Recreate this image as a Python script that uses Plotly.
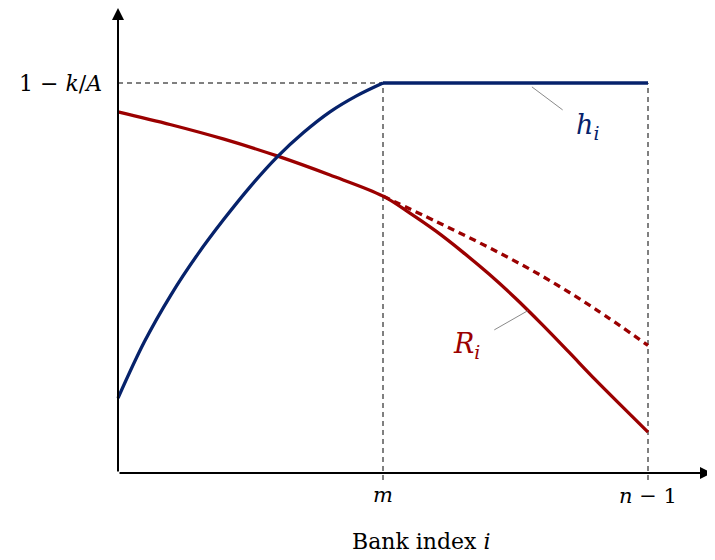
import plotly.graph_objects as go

# --------------------------------------------------
# DATA (x: bank index scaled so m = 0.5, n-1 = 1; y: 1-k/A = 1)
# --------------------------------------------------

m_pos = 0.5
n_pos = 1.0
cap = 1.0

h_x = [0.0, 0.05, 0.1, 0.15, 0.2, 0.25, 0.3, 0.35, 0.4, 0.45, 0.5, 1.0]
h_y = [0.192, 0.337, 0.457, 0.560, 0.651, 0.735, 0.810, 0.873,
       0.926, 0.967, 1.0, 1.0]

r_x = [0.0, 0.1, 0.2, 0.3, 0.4, 0.5, 0.55, 0.6, 0.65, 0.7, 0.75, 0.8,
       0.85, 0.9, 0.95, 1.0]
r_y = [0.926, 0.893, 0.856, 0.813, 0.764, 0.710, 0.667, 0.620, 0.567,
       0.510, 0.448, 0.381, 0.311, 0.240, 0.172, 0.105]

r_dash_x = [0.5, 0.6, 0.7, 0.8, 0.9, 1.0]
r_dash_y = [0.710, 0.645, 0.578, 0.505, 0.421, 0.327]

tick_labels = ["<i>m</i>", "<i>n</i> − 1"]

BLUE = "#06226b"
RED = "#9b0000"
FONT = "DejaVu Serif"

# --------------------------------------------------
# FIGURE
# --------------------------------------------------

fig = go.Figure()

# guide lines
guide = dict(color="black", width=1, dash="5px,4px")
fig.add_trace(go.Scatter(
    x=[0, m_pos, m_pos], y=[cap, cap, -0.018],
    mode="lines", line=guide, hoverinfo="skip"
))
fig.add_trace(go.Scatter(
    x=[m_pos, n_pos, n_pos], y=[cap, cap, -0.018],
    mode="lines", line=guide, hoverinfo="skip"
))

fig.add_trace(go.Scatter(
    x=r_dash_x, y=r_dash_y, mode="lines",
    line=dict(color=RED, width=3.3, dash="7px,5px", shape="spline"),
    hoverinfo="skip"
))
fig.add_trace(go.Scatter(
    x=r_x, y=r_y, mode="lines",
    line=dict(color=RED, width=3.3, shape="spline"),
    hoverinfo="skip"
))
fig.add_trace(go.Scatter(
    x=h_x[:-1], y=h_y[:-1], mode="lines",
    line=dict(color=BLUE, width=3.3, shape="spline"),
    hoverinfo="skip"
))
fig.add_trace(go.Scatter(
    x=h_x[-2:], y=h_y[-2:], mode="lines",
    line=dict(color=BLUE, width=3.3),
    hoverinfo="skip"
))

# leader lines
fig.add_trace(go.Scatter(
    x=[0.781, 0.839], y=[0.990, 0.931], mode="lines",
    line=dict(color="#8a8a8a", width=1), hoverinfo="skip"
))
fig.add_trace(go.Scatter(
    x=[0.773, 0.710], y=[0.416, 0.367], mode="lines",
    line=dict(color="#8a8a8a", width=1), hoverinfo="skip"
))

x_end = 594 / 530
y_end = 465 / 390

annotations = [
    # axes with arrows
    dict(x=x_end, y=0, ax=0, ay=0, xref="x", yref="y", axref="x", ayref="y",
         showarrow=True, arrowhead=2, arrowsize=1.2, arrowwidth=2,
         arrowcolor="black", text=""),
    dict(x=0, y=y_end, ax=0, ay=0, xref="x", yref="y", axref="x", ayref="y",
         showarrow=True, arrowhead=2, arrowsize=1.2, arrowwidth=2,
         arrowcolor="black", text=""),
    dict(x=m_pos, y=0, yshift=-22, text=tick_labels[0], showarrow=False,
         font=dict(size=21, color="black", family=FONT)),
    dict(x=n_pos, y=0, yshift=-23, text=tick_labels[1], showarrow=False,
         font=dict(size=21, color="black", family=FONT)),
    dict(x=0, y=cap, xanchor="right", xshift=-14, text="1 − <i>k</i>/<i>A</i>",
         showarrow=False, font=dict(size=22, color="black", family=FONT)),
    dict(x=0.573, y=0, yshift=-68, text="Bank index <i>i</i>", showarrow=False,
         font=dict(size=22, color="black", family=FONT)),
    dict(x=0.885, y=0.888, text="<i>h<sub>i</sub></i>", showarrow=False,
         font=dict(size=27, color=BLUE, family=FONT)),
    dict(x=0.657, y=0.328, text="<i>R<sub>i</sub></i>", showarrow=False,
         font=dict(size=27, color=RED, family=FONT)),
]

fig.update_layout(
    width=707,
    height=552,
    margin=dict(l=100, r=3, t=0, b=67),
    plot_bgcolor="white",
    paper_bgcolor="white",
    showlegend=False,
    xaxis=dict(range=[-10 / 530, x_end], visible=False, fixedrange=True),
    yaxis=dict(range=[-20 / 390, y_end], visible=False, fixedrange=True),
    annotations=annotations,
)

fig.write_html("out.html")
